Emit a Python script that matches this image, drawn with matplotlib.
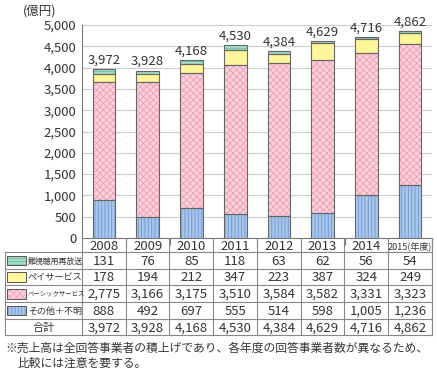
import numpy as np
import matplotlib.pyplot as plt
from matplotlib.patches import Rectangle

plt.rcParams['font.family'] = ['Noto Sans CJK JP', 'DejaVu Sans']
plt.rcParams['hatch.linewidth'] = 0.6

years = ['2008', '2009', '2010', '2011', '2012', '2013', '2014', '2015(年度)']
other = [888, 492, 697, 555, 514, 598, 1005, 1236]
basic = [2775, 3166, 3175, 3510, 3584, 3582, 3331, 3323]
pay = [178, 194, 212, 347, 223, 387, 324, 249]
rebroad = [131, 76, 85, 118, 63, 62, 56, 54]
totals = [3972, 3928, 4168, 4530, 4384, 4629, 4716, 4862]

series_names = ['難視聴用再放送', 'ペイサービス', 'ベーシックサービス', 'その他＋不明']
name_sizes = [5.7, 6.6, 4.6, 6.5]
series_vals = [rebroad, pay, basic, other]
faces = ['#a6dcc4', '#fff59a', '#fbd3dc', '#a9c6ea']
hatches = ['-----', '', 'xxxxx', '|||||']
hcolors = ['#6fbf9f', '#fff59a', '#f19ab0', '#6f98d4']

W, H = 437, 371
fig = plt.figure(figsize=(W / 100, H / 100), dpi=100)
ax = fig.add_axes([82 / W, 1 - 238 / H, 350 / W, 213 / H])

x = np.arange(len(years))
bottom = np.zeros(len(years))
for vals, fc, hc, ht in zip(series_vals[::-1], faces[::-1], hcolors[::-1], hatches[::-1]):
    ax.bar(x, vals, 0.52, bottom=bottom, color=fc, edgecolor=hc, hatch=ht, lw=0, zorder=3)
    ax.bar(x, vals, 0.52, bottom=bottom, color='none', edgecolor='#666666', lw=0.8, zorder=4)
    bottom += np.array(vals)

for xi, t in zip(x, totals):
    ax.text(xi, t + 130, f'{t:,}', ha='center', va='baseline', fontsize=9.5, color='#333333')

ax.set_xlim(-0.5, 7.5)
ax.set_ylim(0, 5000)
ax.set_yticks(range(0, 5001, 500))
ax.set_yticklabels([f'{v:,}' for v in range(0, 5001, 500)], fontsize=9.5, color='#333333')
ax.yaxis.grid(True, color='#cccccc', lw=0.8, zorder=0)
ax.set_xticks(np.arange(-0.5, 8, 1))
ax.set_xticklabels([])
ax.tick_params(axis='x', length=5, direction='out', color='#777777')
ax.tick_params(axis='y', length=0, pad=4)
for s in ['top', 'right']:
    ax.spines[s].set_visible(False)
ax.spines['left'].set_color('#777777')
ax.spines['bottom'].set_color('#777777')
fig.text(40 / W, 1 - 10 / H, '(億円)', fontsize=9, color='#333333', ha='center', va='center_baseline')

# data table under the chart
unit = 350 / 8
left_units = 77 / unit
tx = fig.add_axes([5 / W, 1 - 335 / H, 427 / W, 97 / H])
tx.set_xlim(-0.5 - left_units, 7.5)
tx.set_ylim(335, 238)
tx.axis('off')
row_edges = [238, 252, 268.5, 285, 302, 318.5, 335]
lc = '#888888'
for ye in row_edges[1:]:
    tx.plot([-0.5 - left_units, 7.5], [ye, ye], color=lc, lw=0.8, clip_on=False)
tx.plot([-0.5 - left_units] * 2, [252, 335], color=lc, lw=0.8, clip_on=False)
for xb in np.arange(-0.5, 8, 1):
    tx.plot([xb, xb], [238, 335], color=lc, lw=0.8, clip_on=False)
tx.plot([7.5, 7.5], [238, 335], color=lc, lw=0.8, clip_on=False)

for i, y in enumerate(years):
    fs = 9.5 if i < 7 else 6.5
    tx.text(i, 245.5 + (4.5 if i < 7 else 3.5), y, ha='center', va='baseline', fontsize=fs,
            color='#333333')

rows = series_vals + [totals]
for r, vals in enumerate(rows):
    yc = (row_edges[r + 1] + row_edges[r + 2]) / 2
    for i, v in enumerate(vals):
        tx.text(i, yc + 4.5, f'{v:,}', ha='center', va='baseline', fontsize=9.5, color='#333333')

sw_x0 = -0.5 - left_units + 2.5 / unit
sw_w = 19 / unit
for r, name in enumerate(series_names):
    y0 = row_edges[r + 1] + 3.5
    h = row_edges[r + 2] - row_edges[r + 1] - 7
    tx.add_patch(Rectangle((sw_x0, y0), sw_w, h, facecolor=faces[r], edgecolor=hcolors[r],
                           hatch=hatches[r], lw=0))
    tx.add_patch(Rectangle((sw_x0, y0), sw_w, h, facecolor='none', edgecolor='#555555', lw=0.7))
    yc = (row_edges[r + 1] + row_edges[r + 2]) / 2
    tx.text(sw_x0 + sw_w + 1.5 / unit, yc, name, ha='left', va='center_baseline',
            fontsize=name_sizes[r], color='#333333')
tx.text(-0.5 - left_units / 2, (row_edges[5] + row_edges[6]) / 2, '合計', ha='center',
        va='center_baseline', fontsize=8, color='#333333')

fig.text(5 / W, 1 - 347 / H, '※売上高は全回答事業者の積上げであり、各年度の回答事業者数が異なるため、',
         fontsize=8.5, color='#333333', va='center_baseline')
fig.text(18 / W, 1 - 362 / H, '比較には注意を要する。', fontsize=8.5, color='#333333',
         va='center_baseline')

fig.savefig('out.png', dpi=100)
